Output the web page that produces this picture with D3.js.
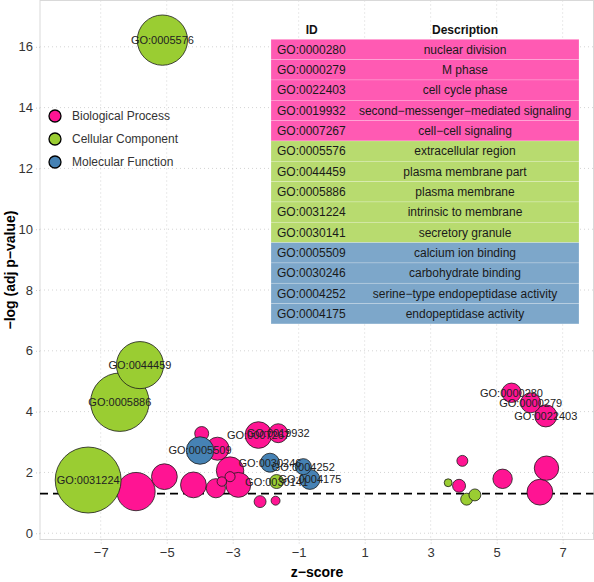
<!DOCTYPE html>
<html>
<head>
<meta charset="utf-8">
<script src="https://cdn.jsdelivr.net/npm/d3@7"></script>
<style>
  html, body { margin: 0; padding: 0; background: #fff; }
  svg { display: block; font-family: "Liberation Sans", Arial, Helvetica, sans-serif; }
</style>
</head>
<body>
<svg id="chart" width="594" height="582"></svg>
<script>
// ---------------- DATA ----------------
const categories = ["Biological Process", "Cellular Component", "Molecular Function"];

// bubble data (one entry per GO term; "" = unlabelled)
const goIds = [
  "GO:0000280", "GO:0000279", "GO:0022403", "GO:0019932", "GO:0007267",
  "", "", "", "", "", "", "", "", "", "", "", "", "", "", "", "", "",
  "GO:0005576", "GO:0044459", "GO:0005886", "GO:0031224", "GO:0030141", "", "", "",
  "GO:0005509", "GO:0030246", "GO:0004252", "GO:0004175"
];
const goCategory = [
  0, 0, 0, 0, 0,
  0, 0, 0, 0, 0, 0, 0, 0, 0, 0, 0, 0, 0, 0, 0, 0, 0,
  1, 1, 1, 1, 1, 1, 1, 1,
  2, 2, 2, 2
];
const zScores = [
  5.45, 6.03, 6.49, -1.62, -2.22,
  -5.93, -5.07, -4.19, -3.51, -3.08, -2.83, -3.33, -3.08, -3.94, -3.46, -2.17, -1.70, 6.51, 6.31, 5.18, 3.96, 3.86,
  -5.13, -5.81, -6.42, -7.38, -1.67, 3.53, 4.09, 4.34,
  -3.99, -1.87, -0.86, -0.66
];
const logPs = [
  4.62, 4.29, 3.86, 3.29, 3.23,
  1.37, 1.86, 1.59, 1.48, 2.06, 1.59, 1.70, 1.86, 3.28, 2.78, 1.04, 1.07, 2.14, 1.35, 1.79, 2.38, 1.56,
  16.22, 5.53, 4.31, 1.75, 1.70, 1.66, 1.12, 1.26,
  2.72, 2.32, 2.19, 1.77
];
const counts = [
  8.5, 9, 11, 8.1, 16,
  33, 15, 15, 8.3, 17, 14, 2.0, 2.3, 4.4, 12, 3.2, 1.8, 13.4, 15, 8.5, 2.7, 3.8,
  57, 50, 77, 98, 4.4, 1.4, 3.2, 3.2,
  17, 8.1, 5.8, 9
];

// table
const tableIds = ["GO:0000280","GO:0000279","GO:0022403","GO:0019932","GO:0007267",
  "GO:0005576","GO:0044459","GO:0005886","GO:0031224","GO:0030141",
  "GO:0005509","GO:0030246","GO:0004252","GO:0004175"];
const tableDescs = ["nuclear division","M phase","cell cycle phase","second\u2212messenger\u2212mediated signaling","cell\u2212cell signaling",
  "extracellular region","plasma membrane part","plasma membrane","intrinsic to membrane","secretory granule",
  "calcium ion binding","carbohydrate binding","serine\u2212type endopeptidase activity","endopeptidase activity"];
const tableCats = [0,0,0,0,0, 1,1,1,1,1, 2,2,2,2];

// axis ticks
const xTicks = [-7, -5, -3, -1, 1, 3, 5, 7];
const yTicks = [0, 2, 4, 6, 8, 10, 12, 14, 16];
const threshold = 1.301; // -log10(0.05)

// ---------------- STYLE ----------------
const bubbleColors = ["#FF1493", "#9ACD32", "#4682B4"];
const tableColors = ["#FF5AB3", "#B8DB6F", "#7DA7CA"];

const svg = d3.select("#chart");
const panel = { left: 40, right: 593.5, top: 0.5, bottom: 539.5 };

const x = d3.scaleLinear().domain([-8.84, 7.95]).range([40, 594]);
const y = d3.scaleLinear().domain([-0.19, 17.54]).range([539, 0]);
const r = d3.scaleSqrt().domain([0, 100]).range([0, 33.3]);

// panel background
svg.append("rect").attr("x", panel.left).attr("y", panel.top)
  .attr("width", panel.right - panel.left).attr("height", panel.bottom - panel.top)
  .attr("fill", "#fff");

// grid
const grid = svg.append("g");
grid.selectAll("line.vx").data(xTicks).enter().append("line")
  .attr("x1", d => x(d)).attr("x2", d => x(d))
  .attr("y1", panel.top).attr("y2", panel.bottom)
  .attr("stroke", "#d4d4d4").attr("stroke-width", 1).attr("stroke-dasharray", "1,3");
grid.selectAll("line.hy").data(yTicks).enter().append("line")
  .attr("y1", d => y(d)).attr("y2", d => y(d))
  .attr("x1", panel.left).attr("x2", panel.right)
  .attr("stroke", "#d4d4d4").attr("stroke-width", 1).attr("stroke-dasharray", "1,3");

// panel border
svg.append("rect").attr("x", panel.left).attr("y", panel.top)
  .attr("width", panel.right - panel.left).attr("height", panel.bottom - panel.top)
  .attr("fill", "none").attr("stroke", "#d9d9d9").attr("stroke-width", 1);

// axes
const xAxis = d3.axisBottom(x).tickValues(xTicks).tickSize(4).tickPadding(4)
  .tickFormat(d => d3.format("")(d).replace("-", "\u2212"));
const gx = svg.append("g").attr("transform", `translate(0,${panel.bottom})`).call(xAxis);
const yAxis = d3.axisLeft(y).tickValues(yTicks).tickSize(4).tickPadding(3);
const gy = svg.append("g").attr("transform", `translate(${panel.left},0)`).call(yAxis);
[gx, gy].forEach(g => {
  g.select(".domain").remove();
  g.selectAll(".tick line").attr("stroke", "#cccccc").attr("stroke-dasharray", "1,2");
  g.selectAll(".tick text").attr("fill", "#333").attr("font-size", 13)
    .attr("font-family", "Liberation Sans, Arial, sans-serif");
});

// threshold line
svg.append("line").attr("x1", panel.left).attr("x2", panel.right)
  .attr("y1", y(threshold)).attr("y2", y(threshold))
  .attr("stroke", "#000").attr("stroke-width", 1.8).attr("stroke-dasharray", "8,5");

// bubbles
const pts = goIds.map((id, i) => ({ id, cat: goCategory[i], z: zScores[i], p: logPs[i], n: counts[i] }));
const ordered = pts.slice().sort((a, b) => (a.cat - b.cat) || (b.n - a.n));
svg.append("g").selectAll("circle").data(ordered).enter().append("circle")
  .attr("cx", d => x(d.z)).attr("cy", d => y(d.p)).attr("r", d => r(d.n))
  .attr("fill", d => bubbleColors[d.cat]).attr("stroke", "#1a1a1a").attr("stroke-width", 0.8);

// bubble labels
svg.append("g").selectAll("text").data(pts.filter(d => d.id)).enter().append("text")
  .attr("x", d => x(d.z)).attr("y", d => y(d.p)).attr("dy", "0.36em")
  .attr("text-anchor", "middle").attr("font-size", 11).attr("fill", "#222")
  .text(d => d.id);

// legend
const lg = svg.append("g");
categories.forEach((c, i) => {
  const cy = 116 + i * 23;
  lg.append("circle").attr("cx", 55).attr("cy", cy).attr("r", 6)
    .attr("fill", bubbleColors[i]).attr("stroke", "#000").attr("stroke-width", 1.3);
  lg.append("text").attr("x", 72).attr("y", cy).attr("dy", "0.35em")
    .attr("font-size", 12).attr("fill", "#333").text(c);
});

// table
const tbl = svg.append("g");
const rowH = 20.33, tTop = 39.3, tLeft = 271, tRight = 579;
tbl.append("text").attr("x", 311.7).attr("y", 30).attr("dy", "0.35em")
  .attr("text-anchor", "middle").attr("font-weight", "bold").attr("font-size", 12).attr("fill", "#111").text("ID");
tbl.append("text").attr("x", 465).attr("y", 30).attr("dy", "0.35em")
  .attr("text-anchor", "middle").attr("font-weight", "bold").attr("font-size", 12).attr("fill", "#111").text("Description");
tableIds.forEach((id, i) => {
  const ty = tTop + i * rowH;
  tbl.append("rect").attr("x", tLeft).attr("y", ty).attr("width", tRight - tLeft).attr("height", rowH)
    .attr("fill", tableColors[tableCats[i]]).attr("stroke", "rgba(255,255,255,0.35)").attr("stroke-width", 0.6);
  tbl.append("text").attr("x", 277).attr("y", ty + rowH / 2).attr("dy", "0.35em")
    .attr("font-size", 12).attr("fill", "#1a1a1a").text(id);
  tbl.append("text").attr("x", 465).attr("y", ty + rowH / 2).attr("dy", "0.35em")
    .attr("text-anchor", "middle").attr("font-size", 12).attr("fill", "#1a1a1a").text(tableDescs[i]);
});

// axis titles
svg.append("text").attr("x", 317).attr("y", 572).attr("dy", "0.35em")
  .attr("text-anchor", "middle").attr("font-weight", "bold").attr("font-size", 14).attr("fill", "#000")
  .text("z\u2212score");
svg.append("text").attr("transform", "translate(10,270) rotate(-90)").attr("dy", "0.35em")
  .attr("text-anchor", "middle").attr("font-weight", "bold").attr("font-size", 14).attr("fill", "#000")
  .text("\u2212log (adj p\u2212value)");
</script>
</body>
</html>
